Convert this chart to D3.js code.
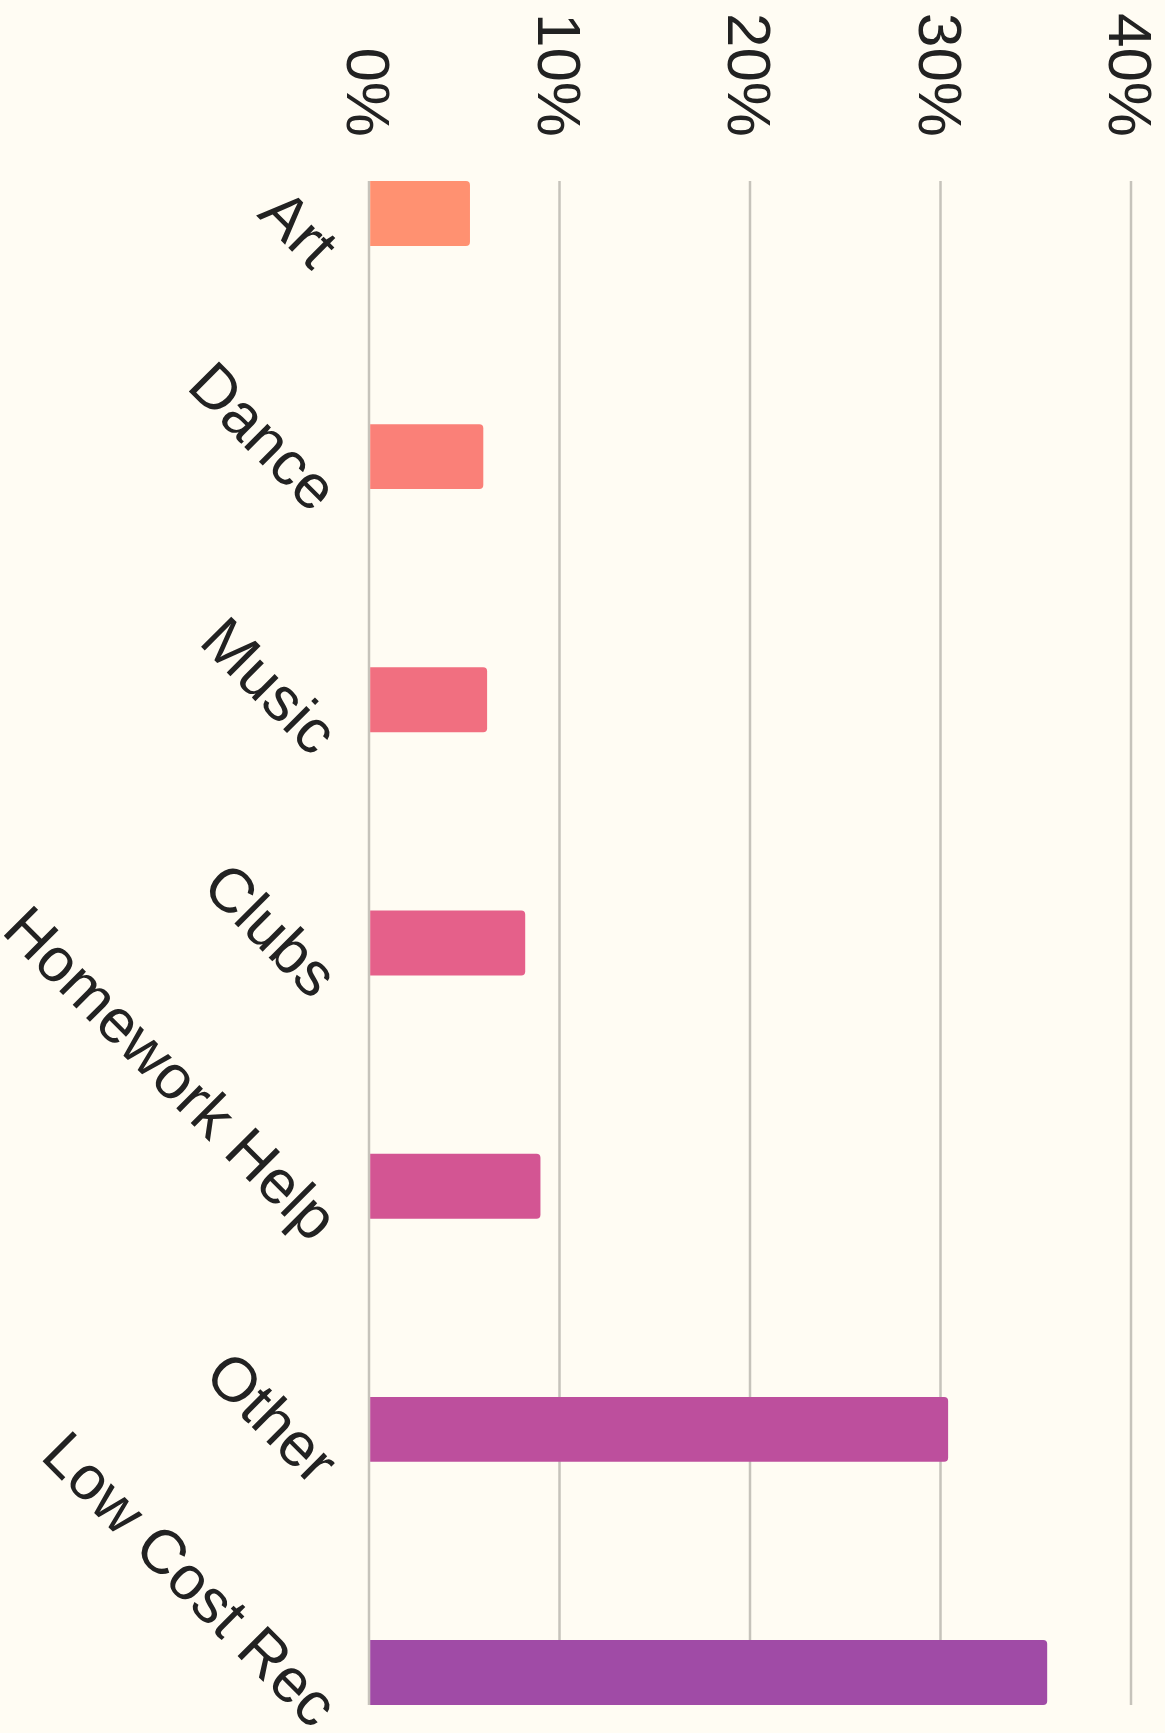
<!DOCTYPE html>
<html>
<head>
<meta charset="utf-8">
<script src="https://cdn.jsdelivr.net/npm/d3@7"></script>
<style>
  html, body { margin: 0; padding: 0; background: #fffcf3; }
  text { font-family: "Liberation Sans", Arial, sans-serif; fill: #222; }
</style>
</head>
<body>
<div id="chart"></div>
<script>
// data
var categories = ["Art", "Dance", "Music", "Clubs", "Homework Help", "Other", "Low Cost Rec"];
var shares = [0.053, 0.060, 0.062, 0.082, 0.090, 0.304, 0.356];
var tick_values = [0, 0.1, 0.2, 0.3, 0.4];
var bar_colors = ["#ff9171", "#fa8078", "#f16f80", "#e5608a", "#d35593", "#bd4f9d", "#a04ba6"];

var width = 1165;
var height = 1733;
var x0 = 369, x1 = 1131; // left and right of the value axis
var top_y = 181, bottom_y = 1705;

var svg = d3.select('#chart').append('svg')
	.attr('width', width)
	.attr('height', height);

svg.append('rect')
	.attr('width', width)
	.attr('height', height)
	.attr('fill', '#fffcf3');

var xScale = d3.scaleLinear().domain([0, 0.4]).range([x0, x1]);
var yScale = d3.scaleBand().domain(categories).range([top_y, bottom_y])
	.paddingInner(0.733).paddingOuter(0);

// grid lines
svg.append('g')
	.selectAll('line')
	.data(tick_values)
	.enter()
	.append('line')
	.attr('x1', function (d) { return xScale(d); })
	.attr('x2', function (d) { return xScale(d); })
	.attr('y1', top_y)
	.attr('y2', bottom_y)
	.attr('stroke', '#c6c3bb')
	.attr('stroke-width', 2.5);

// tick labels, turned a quarter
var fmt = d3.format('.0%');
svg.append('g')
	.selectAll('text')
	.data(tick_values)
	.enter()
	.append('text')
	.attr('transform', function (d) { return 'translate(' + xScale(d) + ',137) rotate(90)'; })
	.attr('text-anchor', 'end')
	.attr('dy', '0.35em')
	.style('font-size', '62px')
	.text(function (d) { return fmt(d); });

// bars with rounded right end
var r = 4;
svg.append('g')
	.selectAll('path')
	.data(categories)
	.enter()
	.append('path')
	.attr('d', function (c, i) {
		var xa = xScale(0) + 1.2, xb = xScale(shares[i]);
		var ya = yScale(c), yb = ya + yScale.bandwidth();
		return 'M' + xa + ',' + ya + 'H' + (xb - r) + 'Q' + xb + ',' + ya + ' ' + xb + ',' + (ya + r) +
			'V' + (yb - r) + 'Q' + xb + ',' + yb + ' ' + (xb - r) + ',' + yb + 'H' + xa + 'Z';
	})
	.attr('fill', function (c, i) { return bar_colors[i]; });

// category labels at 45 degrees
svg.append('g')
	.selectAll('text')
	.data(categories)
	.enter()
	.append('text')
	.attr('transform', function (c) {
		var cy = yScale(c) + yScale.bandwidth() / 2;
		return 'translate(' + (x0 - 57) + ',' + (cy + 58) + ') rotate(45)';
	})
	.attr('text-anchor', 'end')
	.style('font-size', '62px')
	.text(function (c) { return c; });
</script>
</body>
</html>
